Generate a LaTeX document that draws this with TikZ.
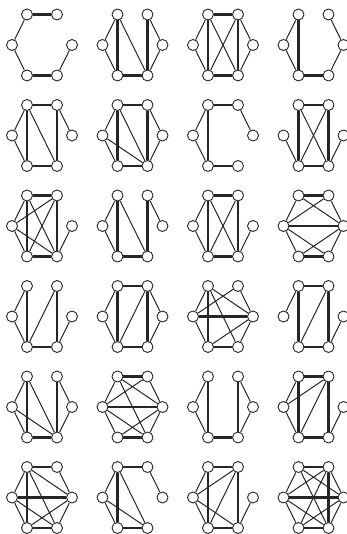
\documentclass[tikz,border=0pt]{standalone}
\usetikzlibrary{calc}
\definecolor{Edge}{HTML}{262626}
\tikzset{
  vtx/.style={circle,draw=Edge,fill=white,line width=0.9pt,minimum size=11pt,inner sep=0pt},
  thinedge/.style={draw=Edge,line width=1pt},
  thickedge/.style={draw=Edge,line width=2.5pt},
}
% #1 name, #2 centre, #3 thin edges, #4 thick edges
\newcommand{\hexg}[4]{%
  \coordinate (#1) at #2;
  \foreach \v/\dx/\dy in {a/-15/-30.5,b/15/-30.5,c/30/0,d/15/30.5,e/-15/30.5,f/-30/0}
    \node[vtx] (#1\v) at ($(#1)+(\dx,\dy)$) {};
  \foreach \p/\q in {#3} \draw[thinedge] (#1\p) -- (#1\q);
  \foreach \p/\q in {#4} \draw[thickedge] (#1\p) -- (#1\q);
}
\begin{document}
\begin{tikzpicture}[x=1pt,y=-1pt]
\fill[white] (0,0) rectangle (346,534);
\useasboundingbox (0,0) rectangle (346,534);
% row 1
\hexg{ra}{(42,45)}{a/f,f/e,d/c}{a/b,e/d}
\hexg{rb}{(132.5,45)}{a/f,f/e,a/d,b/c,c/d}{a/e,e/d,b/d}
\hexg{rc}{(223,45)}{a/f,f/e,a/d,b/e,b/c,c/d}{a/b,a/e,b/d,e/d}
\hexg{rd}{(313.5,45)}{a/f,f/e,b/c,c/d}{a/e,e/d}
% row 2
\hexg{re}{(42,135.5)}{a/f,f/e,a/d,b/c}{a/b,a/e,b/d,e/d}
\hexg{rf}{(132.5,135.5)}{a/f,f/e,a/d,f/d,b/c,c/d}{a/b,a/e,b/d,e/d}
\hexg{rg}{(223,135.5)}{a/f,f/e,b/c}{a/b,a/e,e/d}
\hexg{rh}{(313.5,135.5)}{a/d,b/e,f/e,c/d}{a/b,a/e,b/d,e/d}
% row 3
\hexg{ri}{(42,226)}{a/f,f/e,a/d,f/b,f/d,b/e,c/d}{a/b,a/e,b/d,e/d}
\hexg{rj}{(132.5,226)}{a/f,f/e,a/d,b/c}{a/e,e/d,b/d}
\hexg{rk}{(223,226)}{a/f,f/e,a/d,b/e,c/d}{a/b,a/e,b/d,e/d}
\hexg{rl}{(313.5,226)}{a/f,f/e,a/c,f/b,f/d,e/c,b/c,c/d}{a/b,f/c,e/d}
% row 4
\hexg{rm}{(42,316.5)}{a/f,f/e,b/e,c/d}{a/e,b/d,e/d}
\hexg{rn}{(132.5,316.5)}{a/f,f/e,b/e,b/c,c/d}{a/b,a/e,b/d,e/d}
\hexg{ro}{(223,316.5)}{a/f,f/e,a/c,b/f,a/d,e/c,b/c,c/d}{a/e,f/c,e/d}
\hexg{rp}{(313.5,316.5)}{a/f,b/e,c/d}{a/b,a/e,b/d,e/d}
% row 5
\hexg{rq}{(42,407)}{a/f,f/e,a/d,f/d,b/c,c/d}{a/e,b/d,e/d}
\hexg{rr}{(132.5,407)}{a/f,f/e,a/c,b/f,a/d,f/d,e/c,b/c,c/d}{a/b,f/c,e/d}
\hexg{rs}{(223,407)}{a/f,f/e,b/c,c/d}{a/e,e/d,b/d}
\hexg{rt}{(313.5,407)}{a/f,f/e,f/b,b/e,c/d}{a/b,a/e,b/d,e/d}
% row 6
\hexg{ru}{(42,497.5)}{b/c,a/f,f/e,a/c,a/d,f/d,e/c,c/d}{a/b,a/e,f/c,e/d}
\hexg{rv}{(132.5,497.5)}{b/c,a/f,f/e,a/d,f/d}{a/b,a/e,e/d}
\hexg{rw}{(223,497.5)}{a/f,f/e,f/b,b/e,f/d,c/d}{a/b,a/e,b/d,e/d}
\hexg{rx}{(313.5,497.5)}{a/f,f/e,b/f,a/c,a/d,b/e,f/d,e/c,b/c,c/d}{a/b,f/c,b/d,e/d}
\end{tikzpicture}
\end{document}
